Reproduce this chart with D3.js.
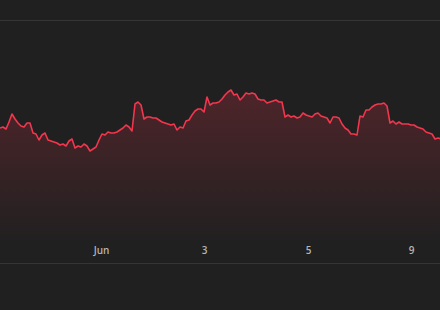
<!DOCTYPE html>
<html><head><meta charset="utf-8">
<script src="https://cdn.jsdelivr.net/npm/d3@7"></script>
<style>html,body{margin:0;padding:0;background:#202020;overflow:hidden}svg{display:block}</style>
</head><body><svg id="c" width="440" height="310"></svg>
<script>
const prices = [
103.5,103.6,103.4,104.1,104.9,104.4,104.0,103.7,103.6,104.0,
104.0,103.0,102.9,102.3,102.8,103.0,102.3,102.2,102.1,102.0,
101.8,101.9,101.7,102.2,102.4,101.5,101.7,101.6,101.9,101.7,
101.2,101.4,101.6,102.3,102.9,102.8,103.1,103.0,103.0,103.1,
103.3,103.5,103.8,103.6,103.2,105.9,106.1,105.8,104.4,104.6,
104.6,104.5,104.5,104.3,104.1,104.0,103.9,103.8,103.9,103.3,
103.6,103.5,104.2,104.3,104.8,105.2,105.4,105.4,105.1,106.6,
105.8,106.0,106.0,106.1,106.4,106.8,107.1,107.3,106.8,106.9,
106.3,106.6,107.0,106.9,107.0,106.9,106.4,106.3,106.3,106.0,
106.1,106.2,106.3,106.1,106.1,104.6,104.8,104.6,104.7,104.5,
104.6,105.0,104.8,104.7,104.6,104.9,105.0,104.7,104.6,104.5,
104.0,104.6,104.6,104.5,103.9,103.5,103.3,102.9,102.9,102.8,
104.7,104.6,105.3,105.3,105.6,105.8,105.9,105.9,106.0,105.7,
104.0,104.2,103.9,104.1,103.9,103.9,103.9,103.8,103.8,103.6,
103.5,103.4,103.1,103.0,102.9,102.4,102.5,102.4
];
const tickLabels = ["Jun", "3", "5", "9"];
const tickIndex = [33.7, 68, 102.7, 137];
const priceRange = [90, 114.3];

(function () {
const W = 440, H = 310;
const plotTop = 20, plotBottom = 263;
const svg = d3.select("#c");
svg.append("rect").attr("width", W).attr("height", H).attr("fill", "#202020");

const x = d3.scaleLinear().domain([0, prices.length - 1]).range([0, (prices.length - 1) * 3]);
const y = d3.scaleLinear().domain(priceRange).range([plotBottom, plotTop]);

const defs = svg.append("defs");
const g = defs.append("linearGradient").attr("id", "fillGrad")
  .attr("gradientUnits", "userSpaceOnUse")
  .attr("x1", 0).attr("x2", 0).attr("y1", y(d3.max(prices))).attr("y2", 245);
g.append("stop").attr("offset", 0).attr("stop-color", "#f2364d").attr("stop-opacity", 0.22);
g.append("stop").attr("offset", 1).attr("stop-color", "#f2364d").attr("stop-opacity", 0);

svg.append("line").attr("x1", 0).attr("x2", W).attr("y1", plotTop + 0.5).attr("y2", plotTop + 0.5)
  .attr("stroke", "#353535").attr("stroke-width", 1);
svg.append("line").attr("x1", 0).attr("x2", W).attr("y1", plotBottom + 0.5).attr("y2", plotBottom + 0.5)
  .attr("stroke", "#353535").attr("stroke-width", 1);

const area = d3.area().x((d, i) => x(i)).y0(plotBottom).y1(d => y(d));
const line = d3.line().x((d, i) => x(i)).y(d => y(d));

svg.append("path").datum(prices).attr("d", area).attr("fill", "url(#fillGrad)");
svg.append("path").datum(prices).attr("d", line).attr("fill", "none")
  .attr("stroke", "#f2364d").attr("stroke-width", 1.6).attr("stroke-linejoin", "round");

const axis = d3.axisBottom(x).tickValues(tickIndex).tickFormat((d, i) => tickLabels[i]).tickSize(0).tickPadding(0);
const ax = svg.append("g").attr("transform", `translate(0,${plotBottom - 16})`).call(axis);
ax.select(".domain").remove();
ax.selectAll("text").attr("fill", "#b4b4b4").attr("font-family", "'Open Sans', sans-serif")
  .attr("font-size", 10).attr("font-weight", 600).attr("dy", "0.71em");
})();
</script></body></html>
